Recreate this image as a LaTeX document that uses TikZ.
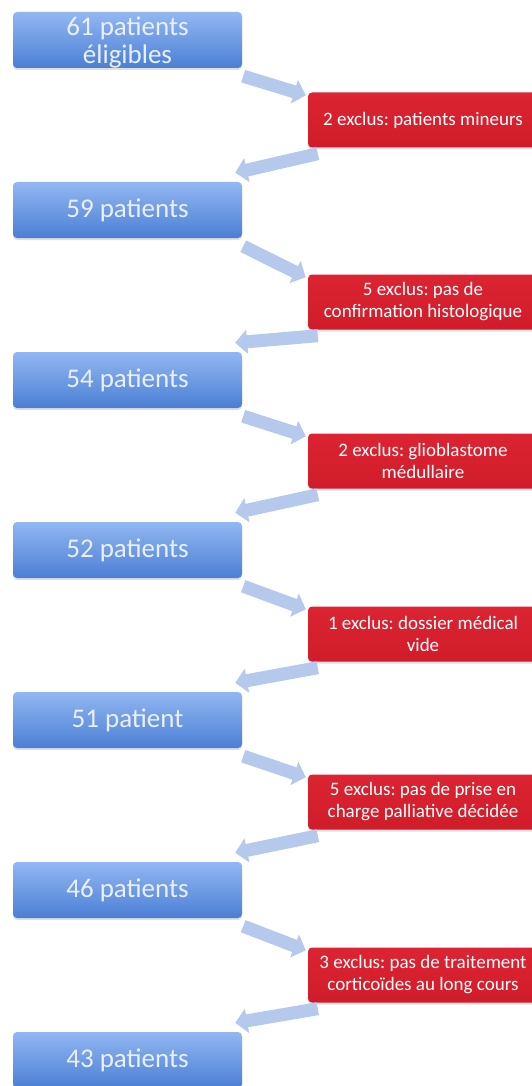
\documentclass[tikz,border=0pt]{standalone}
\usepackage{fontspec}
\setmainfont{Carlito}
\frenchspacing
\usetikzlibrary{arrows.meta,shadows}

\definecolor{boxtop}{HTML}{92B7F3}
\definecolor{boxbot}{HTML}{4B7FD4}
\definecolor{boxtext}{HTML}{EAF0FA}
\definecolor{excltop}{HTML}{DC2432}
\definecolor{exclbot}{HTML}{D01C2A}
\definecolor{flowblue}{HTML}{B5C9EC}

\begin{document}
\begin{tikzpicture}[x=1pt, y=-1pt, node distance=170pt, >={Triangle[width=24pt,length=12pt]}]
        \tikzstyle{cohort}=[rectangle, rounded corners=4pt, minimum width=229pt, minimum height=56pt, inner sep=0pt,
            top color=boxtop, bottom color=boxbot, text=boxtext, align=center,
            font=\fontsize{27}{28}\selectfont,
            drop shadow={shadow xshift=0pt, shadow yshift=-2pt, opacity=0.25}]
        \tikzstyle{excl}=[rectangle, rounded corners=4pt, minimum width=230pt, minimum height=55pt, inner sep=0pt,
            top color=excltop, bottom color=exclbot, text=white, align=center,
            font=\fontsize{19}{22}\selectfont,
            drop shadow={shadow xshift=0pt, shadow yshift=-2pt, opacity=0.25}]
        \tikzstyle{flow}=[->, line width=13pt, draw=flowblue]

        \useasboundingbox (0,0) rectangle (531,1086);

        \node[cohort]   (b1) at (127.5,40) [text depth=0pt] {61 patients\\éligibles};
        \node[cohort]   (b2) [below of=b1]  {59 patients};
        \node[cohort]   (b3) [below of=b2]  {54 patients};
        \node[cohort]   (b4) [below of=b3]  {52 patients};
        \node[cohort]   (b5) [below of=b4]  {51 patient};
        \node[cohort]   (b6) [below of=b5]  {46 patients};
        \node[cohort]   (b7) [below of=b6]  {43 patients};

        \node[excl]     (e1) at (423,120)   {2 exclus: patients mineurs};
        \node[excl]     (e2) at (423,302)   {5 exclus: pas de\\confirmation histologique};
        \node[excl]     (e3) at (423,461)   {2 exclus: glioblastome\\médullaire};
        \node[excl]     (e4) at (423,634)   {1 exclus: dossier médical\\vide};
        \node[excl]     (e5) at (423,802)   {5 exclus: pas de prise en\\charge palliative décidée};
        \node[excl]     (e6) at (423,975)   {3 exclus: pas de traitement\\corticoïdes au long cours};

        % vers les exclusions
        \draw[flow] ([shift={(1,8)}]b1.south east) -- ([shift={(-2,3)}]e1.north west);
        \draw[flow] ([shift={(1,8)}]b2.south east) -- ([shift={(-2,3)}]e2.north west);
        \draw[flow] ([shift={(1,8)}]b3.south east) -- ([shift={(-2,3)}]e3.north west);
        \draw[flow] ([shift={(1,8)}]b4.south east) -- ([shift={(-2,3)}]e4.north west);
        \draw[flow] ([shift={(1,8)}]b5.south east) -- ([shift={(-2,3)}]e5.north west);
        \draw[flow] ([shift={(1,8)}]b6.south east) -- ([shift={(-2,3)}]e6.north west);

        % retour vers les effectifs
        \draw[flow] ([shift={(10,6)}]e1.south west) -- ([shift={(-7,-9)}]b2.north east);
        \draw[flow] ([shift={(10,6)}]e2.south west) -- ([shift={(-7,-9)}]b3.north east);
        \draw[flow] ([shift={(10,6)}]e3.south west) -- ([shift={(-7,-9)}]b4.north east);
        \draw[flow] ([shift={(10,6)}]e4.south west) -- ([shift={(-7,-9)}]b5.north east);
        \draw[flow] ([shift={(10,6)}]e5.south west) -- ([shift={(-7,-9)}]b6.north east);
        \draw[flow] ([shift={(10,6)}]e6.south west) -- ([shift={(-7,-9)}]b7.north east);
    \end{tikzpicture}
\end{document}
